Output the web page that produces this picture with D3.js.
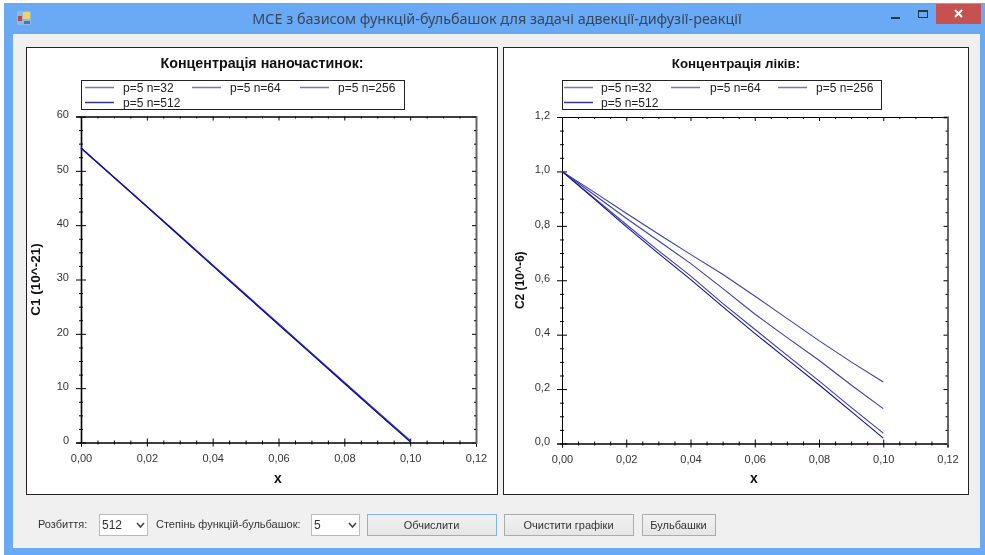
<!DOCTYPE html>
<html>
<head>
<meta charset="utf-8">
<script src="https://cdn.jsdelivr.net/npm/d3@7"></script>
<style>
    html, body { margin: 0; padding: 0; background: #fff; overflow: hidden; }
    svg { display: block; font-family: "Liberation Sans", Arial, sans-serif; filter: blur(0.4px); }
    .tick text { fill: #333; font-size: 11px; }
    .ui-text { fill: #333; font-size: 11px; }
</style>
</head>
<body>
<div class="svg-container"></div>
<script>
const WINDOW_TITLE = "МСЕ з базисом функцій-бульбашок для задачі адвекції-дифузії-реакції";

// Shared x positions of the computed solutions.
const xValues = [0, 0.01, 0.02, 0.03, 0.04, 0.05, 0.06, 0.07, 0.08, 0.09, 0.1];
const seriesNames = ["p=5 n=32", "p=5 n=64", "p=5 n=256", "p=5 n=512"];

// Nanoparticle concentration, C1 (10^-21).
const c1N32 = [54.2, 48.9, 43.5, 38.1, 32.7, 27.3, 21.9, 16.5, 11.1, 5.7, 0.4];
const c1N64 = [54.2, 48.8, 43.4, 38.0, 32.6, 27.2, 21.8, 16.4, 11.0, 5.6, 0.3];
const c1N256 = [54.2, 48.8, 43.4, 38.0, 32.6, 27.2, 21.7, 16.3, 10.9, 5.5, 0.2];
const c1N512 = [54.2, 48.8, 43.4, 38.0, 32.5, 27.1, 21.7, 16.3, 10.9, 5.5, 0.1];

// Drug concentration, C2 (10^-6).
const c2N32 = [1, 0.924, 0.846, 0.77, 0.695, 0.622, 0.542, 0.46, 0.378, 0.3, 0.226];
const c2N64 = [1, 0.914, 0.828, 0.745, 0.662, 0.57, 0.476, 0.39, 0.306, 0.215, 0.128];
const c2N256 = [1, 0.903, 0.805, 0.709, 0.616, 0.515, 0.42, 0.325, 0.23, 0.133, 0.038];
const c2N512 = [1, 0.899, 0.797, 0.699, 0.603, 0.503, 0.405, 0.31, 0.216, 0.118, 0.02];

const xTicks = [0, 0.02, 0.04, 0.06, 0.08, 0.1, 0.12];
const c1Ticks = [0, 10, 20, 30, 40, 50, 60];
const c2Ticks = [0, 0.2, 0.4, 0.6, 0.8, 1, 1.2];

const SERIES_COLORS = ["#3c3cb0", "#3c3cb0", "#3c3cb0", "#0c0ca8"];
const LEGEND_COLORS = ["#7676b8", "#7676b8", "#7676b8", "#33338f"];

const commaLocale = d3.formatLocale({ decimal: ",", thousands: " ", grouping: [3], currency: ["", ""] });

const svg = d3
    .select(".svg-container")
    .append("svg")
    .attr("width", 985)
    .attr("height", 555);

drawWindow();

drawChart({
    panel: { x: 26, y: 47, width: 471, height: 447 },
    plot: { left: 81, right: 476, top: 116.5, bottom: 442.5 },
    legend: { x: 81, width: 323, lineX: [85, 192, 300], textX: [123, 230, 338] },
    title: "Концентрація наночастинок:",
    titleSize: 14.3,
    titleX: 262,
    yLabel: "C1 (10^-21)",
    yLabelSize: 13.5,
    yLabelX: 36,
    xLabelX: 278,
    yDomain: [0, 60],
    yTicks: c1Ticks,
    yFormat: commaLocale.format("d"),
    yMinorStep: 2.5,
    leftAxisColor: "#666",
    values: [c1N32, c1N64, c1N256, c1N512],
});

drawChart({
    panel: { x: 503, y: 47, width: 465, height: 447 },
    plot: { left: 562, right: 947.5, top: 117, bottom: 443.5 },
    legend: { x: 562, width: 319, lineX: [564, 671, 778], textX: [601, 710, 816] },
    title: "Концентрація ліків:",
    titleSize: 13.3,
    titleX: 736,
    yLabel: "C2 (10^-6)",
    yLabelSize: 12,
    yLabelX: 520,
    xLabelX: 754,
    yDomain: [0, 1.2],
    yTicks: c2Ticks,
    yFormat: commaLocale.format(".1f"),
    yMinorStep: 0.05,
    leftAxisColor: "#111",
    values: [c2N32, c2N64, c2N256, c2N512],
});

drawControls();

function drawChart(chart) {
    const { panel, plot, legend } = chart;
    const g = svg.append("g");

    g.append("rect")
        .attr("x", panel.x + 0.5)
        .attr("y", panel.y + 0.5)
        .attr("width", panel.width)
        .attr("height", panel.height)
        .attr("fill", "#fff")
        .attr("stroke", "#222");

    const x = d3.scaleLinear().domain([0, 0.12]).range([plot.left, plot.right]);
    const y = d3.scaleLinear().domain(chart.yDomain).range([plot.bottom, plot.top]);

    const xMinor = d3.range(0, 0.1201, 0.005).filter((v) => !xTicks.some((t) => Math.abs(t - v) < 1e-6));
    const yTop = chart.yDomain[1];
    const yMinor = d3.range(0, yTop + 1e-6, chart.yMinorStep).filter((v) => !chart.yTicks.some((t) => Math.abs(t - v) < 1e-6));

    // Bottom axis with labels, ticks cross the axis line.
    const bottomAxis = g.append("g")
        .attr("transform", "translate(0," + plot.bottom + ")")
        .call(d3.axisBottom(x).tickValues(xTicks).tickSize(4).tickPadding(6).tickFormat(commaLocale.format(".2f")));
    crossTicks(bottomAxis, "y", -4);
    bottomAxis.selectAll(".tick text").attr("y", 12);
    g.append("g")
        .attr("transform", "translate(0," + plot.bottom + ")")
        .call(d3.axisBottom(x).tickValues(xMinor).tickSize(2).tickFormat(""))
        .call((a) => crossTicks(a, "y", -2));

    // Top axis, ticks only and pointing inside.
    g.append("g")
        .attr("transform", "translate(0," + plot.top + ")")
        .call(d3.axisBottom(x).tickValues(xTicks).tickSize(4).tickFormat(""));
    g.append("g")
        .attr("transform", "translate(0," + plot.top + ")")
        .call(d3.axisBottom(x).tickValues(xMinor).tickSize(2).tickFormat(""));

    // Left axis with labels.
    const leftAxis = g.append("g")
        .attr("transform", "translate(" + plot.left + ",0)")
        .call(d3.axisLeft(y).tickValues(chart.yTicks).tickSize(5).tickPadding(5).tickFormat(chart.yFormat));
    crossTicks(leftAxis, "x", 5);
    leftAxis.selectAll(".tick text").attr("x", -12).attr("dy", "0.12em");
    g.append("g")
        .attr("transform", "translate(" + plot.left + ",0)")
        .call(d3.axisLeft(y).tickValues(yMinor).tickSize(2).tickFormat(""))
        .call((a) => crossTicks(a, "x", 2));
    leftAxis.select(".domain").attr("stroke", chart.leftAxisColor).attr("stroke-width", chart.leftAxisColor === "#666" ? 2 : 1);

    // Right axis, ticks pointing inside, grey line.
    const rightAxis = g.append("g")
        .attr("transform", "translate(" + plot.right + ",0)")
        .call(d3.axisRight(y).tickValues(chart.yTicks).tickSize(-4).tickFormat(""));
    rightAxis.select(".domain").attr("stroke", "#666").attr("stroke-width", 2);
    g.append("g")
        .attr("transform", "translate(" + plot.right + ",0)")
        .call(d3.axisRight(y).tickValues(yMinor).tickSize(-2).tickFormat(""))
        .call((a) => a.select(".domain").remove());

    const line = d3.line()
        .x((d, i) => x(xValues[i]))
        .y((d) => y(d));

    g.append("g")
        .attr("class", "series")
        .selectAll("path")
        .data(chart.values)
        .join("path")
        .attr("d", line)
        .attr("fill", "none")
        .attr("stroke", (d, i) => SERIES_COLORS[i])
        .attr("stroke-width", 1.1);

    // Titles.
    g.append("text")
        .attr("x", chart.titleX)
        .attr("y", 68)
        .attr("text-anchor", "middle")
        .attr("font-size", chart.titleSize)
        .attr("font-weight", "bold")
        .attr("fill", "#111")
        .text(chart.title);
    g.append("text")
        .attr("transform", "translate(" + (chart.yLabelX + 4) + "," + (plot.top + plot.bottom) / 2 + ") rotate(-90)")
        .attr("text-anchor", "middle")
        .attr("font-size", chart.yLabelSize)
        .attr("font-weight", "bold")
        .attr("fill", "#111")
        .text(chart.yLabel);
    g.append("text")
        .attr("x", chart.xLabelX)
        .attr("y", 483)
        .attr("text-anchor", "middle")
        .attr("font-size", 14)
        .attr("font-weight", "bold")
        .attr("fill", "#111")
        .text("x");

    // Legend box sits over the top of the plot.
    const legendBox = g.append("g");
    legendBox.append("rect")
        .attr("x", legend.x + 0.5)
        .attr("y", 80.5)
        .attr("width", legend.width)
        .attr("height", 29)
        .attr("fill", "#fff")
        .attr("stroke", "#222");
    const item = legendBox.selectAll("g")
        .data(seriesNames)
        .join("g")
        .attr("transform", (d, i) => "translate(" + (i < 3 ? legend.lineX[i] : legend.lineX[0]) + "," + (i < 3 ? 87.5 : 102.5) + ")");
    item.append("line")
        .attr("x2", 29)
        .attr("stroke", (d, i) => LEGEND_COLORS[i])
        .attr("stroke-width", 1.5);
    item.append("text")
        .attr("x", (d, i) => (i < 3 ? legend.textX[i] - legend.lineX[i] : legend.textX[0] - legend.lineX[0]))
        .attr("y", 4)
        .attr("font-size", 12)
        .attr("fill", "#222")
        .text((d) => d);
}

// Extends the ticks of an axis to the other side of its line.
function crossTicks(axis, attr, start) {
    axis.selectAll(".tick line").attr(attr + "1", start);
}

function drawWindow() {
    svg.append("rect").attr("x", 4).attr("y", 3).attr("width", 981).attr("height", 552).attr("fill", "#6aa9f4");
    svg.append("rect").attr("x", 13).attr("y", 34).attr("width", 967).attr("height", 514).attr("fill", "#f0f0f0");

    // App icon.
    const icon = svg.append("g").attr("transform", "translate(17,11)");
    icon.append("rect").attr("width", 14).attr("height", 14).attr("fill", "#8fb8e8");
    icon.append("rect").attr("x", 6).attr("y", 1).attr("width", 7).attr("height", 7).attr("fill", "#f4d35a");
    icon.append("rect").attr("x", 1).attr("y", 5).attr("width", 4).attr("height", 5).attr("fill", "#c8453f");
    icon.append("rect").attr("x", 7).attr("y", 10).attr("width", 6).attr("height", 3).attr("fill", "#4a73c0");

    svg.append("text")
        .attr("x", 497)
        .attr("y", 24)
        .attr("text-anchor", "middle")
        .attr("font-family", "'Noto Sans', sans-serif")
        .attr("font-size", 14.4)
        .attr("fill", "#37475c")
        .text(WINDOW_TITLE);

    // Minimize, maximize and close buttons.
    svg.append("rect").attr("x", 891).attr("y", 17).attr("width", 9).attr("height", 2).attr("fill", "#22384f");
    svg.append("rect").attr("x", 918.5).attr("y", 10.5).attr("width", 9).attr("height", 7).attr("fill", "none").attr("stroke", "#22384f");
    svg.append("rect").attr("x", 918).attr("y", 10).attr("width", 10).attr("height", 2).attr("fill", "#22384f");
    svg.append("rect").attr("x", 936).attr("y", 4).attr("width", 45).attr("height", 20).attr("fill", "#c75050");
    svg.append("path").attr("d", "M955 10l7 7M962 10l-7 7").attr("stroke", "#fff").attr("stroke-width", 2);
}

function drawControls() {
    const labels = [
        { text: "Розбиття:", x: 38 },
        { text: "Степінь функцій-бульбашок:", x: 156 },
    ];
    svg.selectAll("text.label")
        .data(labels)
        .join("text")
        .attr("class", "label ui-text")
        .attr("x", (d) => d.x)
        .attr("y", 528)
        .text((d) => d.text);

    const combos = [
        { text: "512", x: 99, width: 48 },
        { text: "5", x: 311, width: 48 },
    ];
    const combo = svg.selectAll("g.combo").data(combos).join("g").attr("class", "combo");
    combo.append("rect")
        .attr("x", (d) => d.x + 0.5)
        .attr("y", 514.5)
        .attr("width", (d) => d.width)
        .attr("height", 21)
        .attr("fill", "#fff")
        .attr("stroke", "#bbb");
    combo.append("text")
        .attr("class", "ui-text")
        .attr("x", (d) => d.x + 3)
        .attr("y", 529)
        .style("font-size", "12px")
        .text((d) => d.text);
    combo.append("path")
        .attr("d", (d) => "M" + (d.x + 38) + " 523l3.5 4l3.5 -4")
        .attr("fill", "none")
        .attr("stroke", "#444")
        .attr("stroke-width", 1.5);

    const buttons = [
        { text: "Обчислити", x: 367, width: 129, border: "#7eb4ea" },
        { text: "Очистити графіки", x: 504, width: 129, border: "#acacac" },
        { text: "Бульбашки", x: 642, width: 73, border: "#acacac" },
    ];
    const gradient = svg.append("defs").append("linearGradient").attr("id", "button-fill").attr("x2", 0).attr("y2", 1);
    gradient.append("stop").attr("offset", 0).attr("stop-color", "#f2f2f2");
    gradient.append("stop").attr("offset", 1).attr("stop-color", "#e5e5e5");
    const button = svg.selectAll("g.button").data(buttons).join("g").attr("class", "button");
    button.append("rect")
        .attr("x", (d) => d.x + 0.5)
        .attr("y", 514.5)
        .attr("width", (d) => d.width)
        .attr("height", 21)
        .attr("fill", "url(#button-fill)")
        .attr("stroke", (d) => d.border);
    button.append("text")
        .attr("class", "ui-text")
        .attr("x", (d) => d.x + d.width / 2)
        .attr("y", 528.5)
        .attr("text-anchor", "middle")
        .text((d) => d.text);
}
</script>
</body>
</html>
